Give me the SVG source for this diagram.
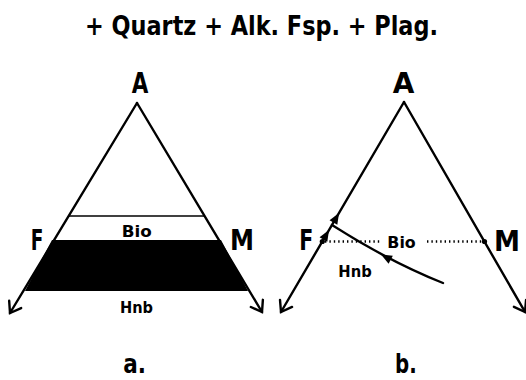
<svg xmlns="http://www.w3.org/2000/svg" width="526" height="380" viewBox="0 0 526 380">
  <style>
    text { font-family: "DejaVu Sans", "Liberation Sans", sans-serif; fill: #000; font-weight: bold; }
    .big { font-size: 28px; }
    .cap { font-size: 26px; }
    .lbl { font-size: 16px; }
    .title { font-size: 27px; }
    .side { fill: none; stroke: #000; stroke-width: 2.4; stroke-linecap: round; }
    .thin { fill: none; stroke: #000; stroke-width: 1.7; }
    .dot { fill: none; stroke: #000; stroke-width: 2.3; stroke-dasharray: 1.4 3; }
  </style>
  <defs>
    <marker id="open" markerUnits="userSpaceOnUse" markerWidth="30" markerHeight="30" refX="0" refY="0" orient="auto" overflow="visible">
      <path d="M-10,-7 L0,0 L-10,7" fill="none" stroke="#000" stroke-width="2.4" stroke-linecap="round" stroke-linejoin="miter"/>
    </marker>
    <path id="tri" d="M0,0 L-11,-4.5 L-11,4.5 Z" fill="#000"/>
  </defs>

  <g id="title">
    <text class="title" x="85" y="35" textLength="353" lengthAdjust="spacingAndGlyphs">+ Quartz + Alk. Fsp. + Plag.</text>
  </g>

  <!-- Panel a -->
  <g id="panel-a">
    <polygon id="hnb-field-a" points="52,240 221,240 248,291 25,291" fill="#000"/>
    <g id="connectors-a">
      <line class="side" x1="137" y1="103" x2="10" y2="313" marker-end="url(#open)"/>
      <line class="side" x1="137" y1="103" x2="262" y2="312" marker-end="url(#open)"/>
      <line class="thin" x1="68.7" y1="216" x2="204.3" y2="216"/>
    </g>
    <g id="node-A-a"><text class="big" x="131.7" y="93" textLength="16.6" lengthAdjust="spacingAndGlyphs">A</text></g>
    <g id="node-F-a"><text class="big" x="30.7" y="250" textLength="12.6" lengthAdjust="spacingAndGlyphs">F</text></g>
    <g id="node-M-a"><text class="big" x="230" y="250" textLength="24" lengthAdjust="spacingAndGlyphs">M</text></g>
    <g id="label-bio-a"><text class="lbl" x="121.7" y="236.7" textLength="30" lengthAdjust="spacingAndGlyphs">Bio</text></g>
    <g id="label-hnb-a"><text class="lbl" x="120" y="313.3" textLength="33" lengthAdjust="spacingAndGlyphs">Hnb</text></g>
    <g id="caption-a"><text class="cap" x="123.3" y="373" textLength="22.7" lengthAdjust="spacingAndGlyphs">a.</text></g>
  </g>

  <!-- Panel b -->
  <g id="panel-b">
    <g id="connectors-b">
      <line class="side" x1="404" y1="102" x2="281" y2="312" marker-end="url(#open)"/>
      <line class="side" x1="404" y1="102" x2="525" y2="312" marker-end="url(#open)"/>
      <line class="dot" x1="325" y1="241.5" x2="382" y2="241.5"/>
      <line class="dot" x1="427" y1="241.5" x2="483" y2="241.5"/>
      <path class="side" d="M443,283 Q390,262 332,225"/>
      <use href="#tri" transform="translate(339,213) rotate(-59.6)"/>
      <use href="#tri" transform="translate(329,230) rotate(-59.6)"/>
      <use href="#tri" transform="translate(381,254.5) rotate(-152)"/>
      <circle cx="322.3" cy="241.5" r="2.6" fill="#000"/>
      <circle cx="484.5" cy="241.5" r="2.6" fill="#000"/>
    </g>
    <g id="node-A-b"><text class="big" x="392.7" y="93" textLength="21.6" lengthAdjust="spacingAndGlyphs">A</text></g>
    <g id="node-F-b"><text class="big" x="299.3" y="250" textLength="14" lengthAdjust="spacingAndGlyphs">F</text></g>
    <g id="node-M-b"><text class="big" x="494" y="251" textLength="26" lengthAdjust="spacingAndGlyphs">M</text></g>
    <g id="label-bio-b"><text class="lbl" x="387.3" y="248" textLength="28.4" lengthAdjust="spacingAndGlyphs">Bio</text></g>
    <g id="label-hnb-b"><text class="lbl" x="338.3" y="276.7" textLength="33.4" lengthAdjust="spacingAndGlyphs">Hnb</text></g>
    <g id="caption-b"><text class="cap" x="395" y="373" textLength="21.7" lengthAdjust="spacingAndGlyphs">b.</text></g>
  </g>
</svg>
